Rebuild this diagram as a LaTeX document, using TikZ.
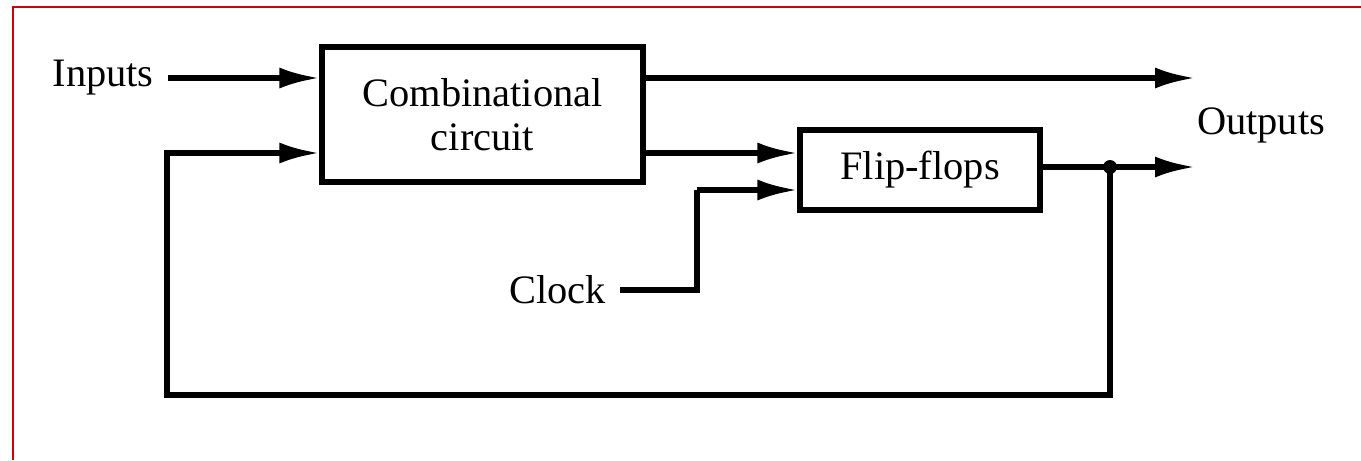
\documentclass[tikz,border=0pt]{standalone}
\usepackage{fontspec}
\setmainfont{Liberation Serif}
\usetikzlibrary{arrows.meta}

\begin{document}
\begin{tikzpicture}[
  x=0.02cm, y=-0.02cm,
  every node/.style={inner sep=1pt, font=\fontsize{23}{25}\selectfont},
  block/.style={draw, line width=3pt, align=center},
  lbl/.style={inner xsep=8pt},
  wire/.style={line width=3pt},
  arr/.style={wire, -{Latex[length=8mm,width=4.2mm]}},
  dot/.style={circle, fill=black, minimum size=2.8mm, inner sep=0pt}
]
\useasboundingbox (0,0) rectangle (1361,460);
\draw[red!80!black, line width=1.2pt] (13,460) -- (13,7) -- (1361,7);

\node[block, minimum width=6.42cm, minimum height=2.7cm] (comb) at (482.5,114.5)
  {Combinational\\circuit};
\node[block, minimum width=4.8cm, minimum height=1.6cm] (ff) at (920,170) {Flip-flops};

\node[lbl, anchor=east] (inputs) at (168,78) {Inputs};
\node[anchor=west] (outputs) at (1195,125) {Outputs};
\node[lbl, anchor=east] (clock) at (620,290) {Clock};

\coordinate (tap) at (1110,167);
\coordinate (fbl) at (167,395);
\coordinate (clk) at (697,190);

\draw[arr] (inputs.east) -- (inputs.east -| comb.west);
\draw[arr] (comb.east |- inputs.east) -- (outputs.west |- inputs.east);
\draw[arr] (comb.east |- 0,153) -- (ff.west |- 0,153);
\draw[wire] (clock.east) -| (clk);
\draw[arr] (clk) -- (ff.west |- clk);
\draw[arr] (ff.east |- tap) -- (outputs.west |- tap);
\draw[arr] (tap) -- (tap |- fbl) -- (fbl) -- (fbl |- 0,153) -- (comb.west |- 0,153);
\node[dot] (tapdot) at (tap) {};
\end{tikzpicture}
\end{document}
